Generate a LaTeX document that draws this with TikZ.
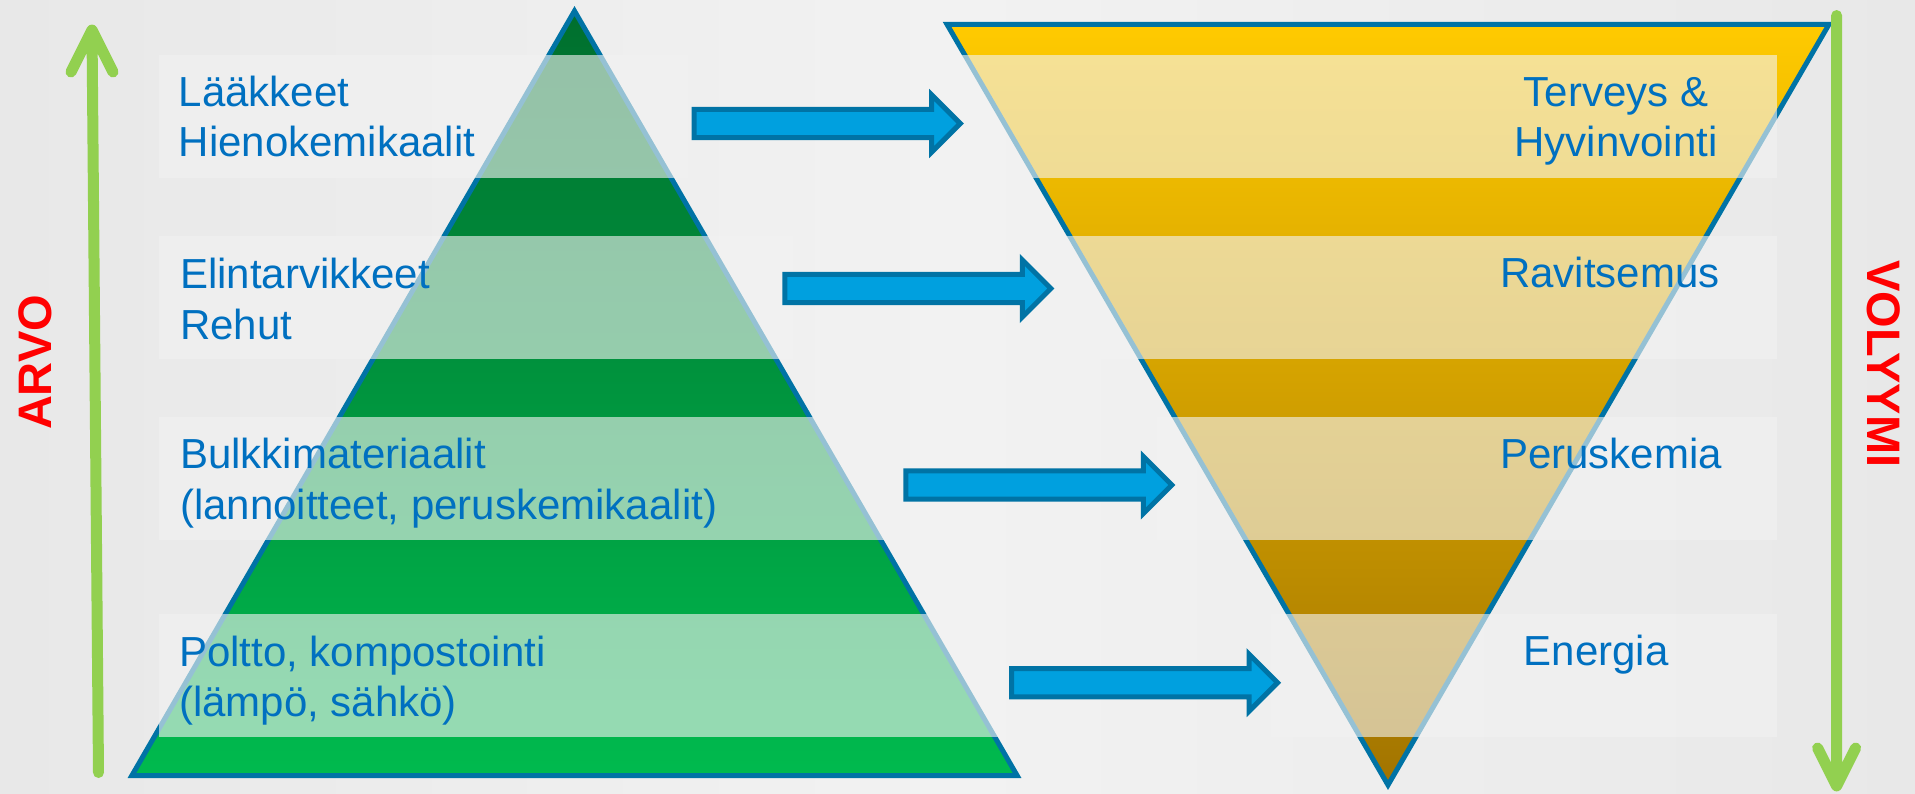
\documentclass[tikz,border=0pt]{standalone}
\usepackage{fontspec}
\setmainfont{Liberation Sans}
\usetikzlibrary{shapes.arrows}
\definecolor{txtblue}{RGB}{0,112,192}
\definecolor{edgeblue}{RGB}{0,115,165}
\definecolor{arrfill}{RGB}{0,160,223}
\definecolor{arrgreen}{RGB}{146,208,80}
\definecolor{bgmid}{RGB}{242,242,242}
\definecolor{bgside}{RGB}{232,232,232}
\definecolor{boxfill}{RGB}{242,242,242}
\definecolor{grtop}{RGB}{0,111,46}
\definecolor{grmid}{RGB}{0,150,62}
\definecolor{grbot}{RGB}{0,186,78}
\definecolor{yetop}{RGB}{255,202,0}
\definecolor{yemid}{RGB}{234,172,0}
\definecolor{yebot}{RGB}{162,116,0}
\tikzset{
	bandbox/.style={fill=boxfill, fill opacity=0.62},
	bodytext/.style={text=txtblue, font=\fontsize{42}{50.7}\selectfont, inner sep=0pt, align=left, anchor=base west},
	axistext/.style={text=red, font=\fontsize{47}{56}\selectfont\bfseries, inner sep=0pt},
	blockarrow/.style={single arrow, draw=edgeblue, fill=arrfill, line width=5pt, minimum height=266pt, single arrow head extend=14.3pt, inner sep=11.7pt, single arrow tip angle=90, anchor=west},
	growline/.style={draw=arrgreen, line width=11pt, line cap=round, line join=round}
}
\begin{document}
\begin{tikzpicture}[x=1pt, y=-1pt, line join=miter]
	\useasboundingbox (0,0) rectangle (1915,793);
	\fill[left color=bgside, right color=bgside, middle color=bgmid] (0,0) rectangle (1915,793);
	\path
	(574.5,11) coordinate (PA)
	(131.9,775.5) coordinate (PL)
	(1017.1,775.5) coordinate (PR)
	(947,24.3) coordinate (VL)
	(1829,24.3) coordinate (VR)
	(1388,785) coordinate (VB);
	\draw[edgeblue, line width=5pt, top color=grtop, middle color=grmid, bottom color=grbot] (PA)--(PR)--(PL)--cycle;
	\draw[edgeblue, line width=5pt, top color=yetop, middle color=yemid, bottom color=yebot] (VL)--(VR)--(VB)--cycle;
	\foreach \t/\b/\r/\s in {55/177.7/688/947, 235.7/359/793/1052, 416.7/539.7/898/1157, 614/736.7/1012/1271}
	{\fill[bandbox] (159,\t) rectangle (\r,\b); \fill[bandbox] (\s,\t) rectangle (1777,\b);}
	\node[bodytext] (laak) at (178.6,156.7) {Lääkkeet\\Hienokemikaalit};
	\node[bodytext] (elin) at (180,339) {Elintarvikkeet\\Rehut};
	\node[bodytext] (bulk) at (180,519) {Bulkkimateriaalit\\(lannoitteet, peruskemikaalit)};
	\node[bodytext] (polt) at (179,716.7) {Poltto, kompostointi\\(lämpö, sähkö)};
	\node[bodytext, align=center, anchor=base] (terv) at (1616,156.7) {Terveys \&\\Hyvinvointi};
	\node[bodytext] (ravi) at (1500,287.7) {Ravitsemus};
	\node[bodytext] (peru) at (1500,468.3) {Peruskemia};
	\node[bodytext] (ener) at (1523.6,665.7) {Energia};
	\foreach \n/\x/\y in {1/691.7/123.5, 2/782.3/288.5, 3/903.3/485, 4/1009/682.7}
	\node[blockarrow] (arr\n) at (\x,\y) {};
	\path
	(98.5,772.5) coordinate (arvoB)
	(92,30) coordinate (arvoT)
	(1836.6,15.5) coordinate (volyT)
	(1836.6,786) coordinate (volyB);
	\draw[growline] (arvoB)--(arvoT) (arvoT)--++(-21,42) (arvoT)--++(21,42);
	\draw[growline] (volyT)--(volyB) (volyB)--++(-19,-38) (volyB)--++(19,-38);
	\node[axistext, rotate=90] (arvo) at (35,362.5) {ARVO};
	\node[axistext, rotate=-90] (voly) at (1884,363.7) {VOLYYMI};
\end{tikzpicture}
\end{document}
